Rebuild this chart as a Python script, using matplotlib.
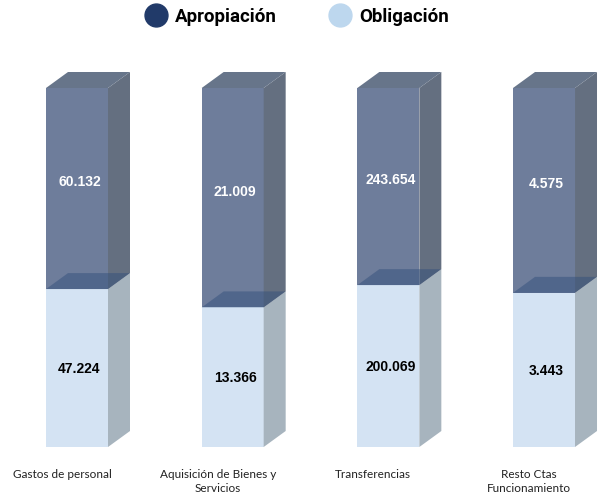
import numpy as np
import matplotlib
matplotlib.use('Agg')
import matplotlib.pyplot as plt
from matplotlib.lines import Line2D
from matplotlib.patches import Polygon

categorias = ['Gastos de personal', 'Aquisición de Bienes y\nServicios',
              'Transferencias', 'Resto Ctas\nFuncionamiento']
apropiacion = np.array([60132, 21009, 243654, 4575])
obligacion = np.array([47224, 13366, 200069, 3443])
etiq_apropiacion = ['60.132', '21.009', '243.654', '4.575']
etiq_obligacion = ['47.224', '13.366', '200.069', '3.443']

# depth of the fake 3D box, in axis units
dx = 22 / 155.67
dy = 16 / 359
ancho = 62 / 155.67

fig = plt.figure(figsize=(6.03, 4.98), dpi=100)
ax = fig.add_axes([0, 51 / 498, 1, 359 * 1.05 / 498])
ax.set_xlim(-77 / 155.67, 526 / 155.67)
ax.set_ylim(0, 1.05)

# share of each stack, the bars are 100% stacked
parte = obligacion / (apropiacion + obligacion)
x = np.arange(len(categorias))

ax.bar(x, parte, width=ancho, color='#D4E3F3', zorder=2)
ax.bar(x, 1 - parte, bottom=parte, width=ancho, color='#6E7D9B', zorder=2)

for xi, p in zip(x, parte):
    x0 = xi - ancho / 2
    x1 = xi + ancho / 2
    # lower side
    ax.add_patch(Polygon([(x1, 0), (x1 + dx, dy), (x1 + dx, p + dy), (x1, p)],
                         facecolor='#A7B4BE', edgecolor='none', zorder=2))
    # upper side
    ax.add_patch(Polygon([(x1, p), (x1 + dx, p + dy), (x1 + dx, 1 + dy), (x1, 1)],
                         facecolor='#646F80', edgecolor='none', zorder=2))
    # top lid
    ax.add_patch(Polygon([(x0, 1), (x1, 1), (x1 + dx, 1 + dy), (x0 + dx, 1 + dy)],
                         facecolor='#67758A', edgecolor='none', zorder=2))
    # lid of the lower block, seen through the upper one
    ax.add_patch(Polygon([(x0, p), (x1, p), (x1 + dx, p + dy), (x0 + dx, p + dy)],
                         facecolor='#34507C', alpha=0.5, edgecolor='none', zorder=3))

for xi, p, a, o in zip(x, parte, etiq_apropiacion, etiq_obligacion):
    ax.text(xi + 0.015, p + (1 - p) / 2 + 0.017, a, ha='center', va='center', color='white',
            fontsize=10, fontweight='bold', family='Liberation Sans', zorder=4)
    ax.text(xi + 0.015, p / 2 - 0.002, o, ha='center', va='center', color='black',
            fontsize=10, fontweight='bold', family='Liberation Sans', zorder=4)

# the labels sit a bit left of the bars in the original
ax.set_xticks(x - 15 / 155.67)
ax.set_xticklabels(categorias, fontsize=8.5, family='Lato', color='#222222', linespacing=1.42)
ax.tick_params(axis='x', length=0, pad=15.5)
ax.set_yticks([])
for s in ax.spines.values():
    s.set_visible(False)

handles = [
    Line2D([], [], linestyle='none', marker='o', markersize=16.5, color='#213A69', label='Apropiación'),
    Line2D([], [], linestyle='none', marker='o', markersize=16.5, color='#BDD7EE', label='Obligación'),
]
leg = fig.legend(handles=handles, loc='center', bbox_to_anchor=(293 / 603, 1 - 17 / 498), ncols=2,
                 frameon=False, columnspacing=2.35, handletextpad=0.02,
                 prop={'family': 'Roboto', 'weight': 'bold', 'size': 13.5})

fig.savefig('out.png', dpi=100)
